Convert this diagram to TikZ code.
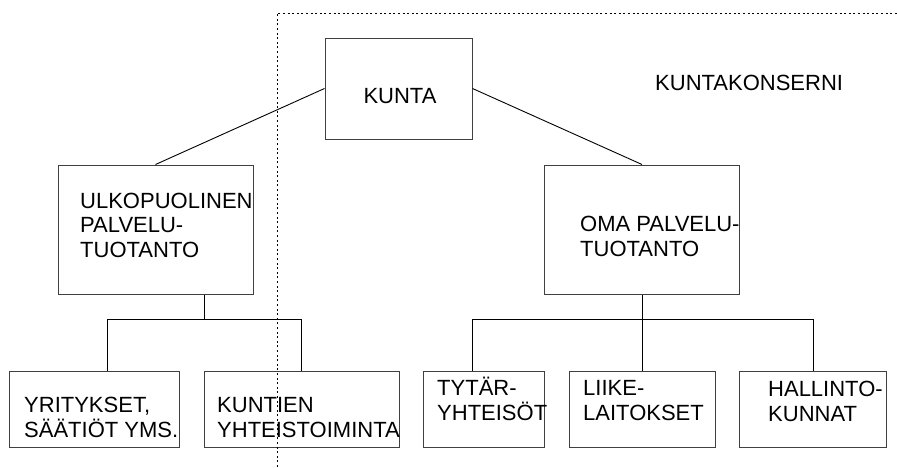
\documentclass[tikz,border=0pt]{standalone}
\usepackage{fontspec}
\setmainfont{Liberation Sans}
\begin{document}
\begin{tikzpicture}[x=1pt,y=-1pt,
  orgbox/.style={draw=black!75, line width=1pt, inner sep=0pt, rectangle},
  lbl/.style={anchor=base west, inner sep=0pt, align=left,
    font=\fontsize{22}{24.5}\selectfont},
  link/.style={draw=black, line width=0.9pt},
  border/.style={draw=black, line width=1pt, dash pattern=on 2pt off 2.6pt}]
\useasboundingbox (0,0) rectangle (897,467);

% organisation boxes
\node[orgbox, minimum width=147pt, minimum height=101pt] (kunta) at (398.5,88.5) {};
\node[orgbox, minimum width=195pt, minimum height=129pt] (ulko) at (155.5,229.5) {};
\node[orgbox, minimum width=195pt, minimum height=129pt] (oma) at (642,229.5) {};
\node[orgbox, minimum width=170pt, minimum height=76pt] (yrit) at (94,409) {};
\node[orgbox, minimum width=195pt, minimum height=76pt] (kunt) at (301.5,409) {};
\node[orgbox, minimum width=121pt, minimum height=76pt] (tytar) at (483.5,409) {};
\node[orgbox, minimum width=146pt, minimum height=76pt] (liike) at (642,409) {};
\node[orgbox, minimum width=147pt, minimum height=76pt] (hall) at (812.5,409) {};

% box texts (base = baseline of the last line)
\node[lbl, anchor=base] (tkunta) at (400,103) {KUNTA};
\node[lbl] (tkons) at (655,90) {KUNTAKONSERNI};
\node[lbl] (tulko) at (80,257) {ULKOPUOLINEN\\PALVELU-\\TUOTANTO};
\node[lbl] (toma) at (580,256) {OMA PALVELU-\\TUOTANTO};
\node[lbl] (tyrit) at (24,437) {YRITYKSET,\\SÄÄTIÖT YMS.};
\node[lbl] (tkunt) at (217,437) {KUNTIEN\\YHTEISTOIMINTA};
\node[lbl] (ttytar) at (437,420) {TYTÄR-\\YHTEISÖT};
\node[lbl] (tliike) at (583,420) {LIIKE-\\LAITOKSET};
\node[lbl] (thall) at (768,421) {HALLINTO-\\KUNNAT};

% top level links
\draw[link] (kunta.west) -- (ulko.north);
\draw[link] (kunta.east) -- (oma.north);

% external production branch
\coordinate (jl) at (204,319);
\coordinate (l1) at (107,319);
\draw[link] (ulko.south -| jl) -- (jl);
\draw[link] (l1 |- yrit.north) -- (l1) -- (kunt.north |- l1) -- (kunt.north);

% own production branch
\coordinate (r1) at (472,319);
\coordinate (r3) at (813,319);
\draw[link] (oma.south) -- (liike.north);
\draw[link] (r1 |- tytar.north) -- (r1) -- (r3) -- (r3 |- hall.north);

% municipal group boundary
\coordinate (bb) at (277,467);
\coordinate (bc) at (277,13);
\coordinate (be) at (897,13);
\draw[border] (bb) -- (bc) -- (be);
\end{tikzpicture}
\end{document}
